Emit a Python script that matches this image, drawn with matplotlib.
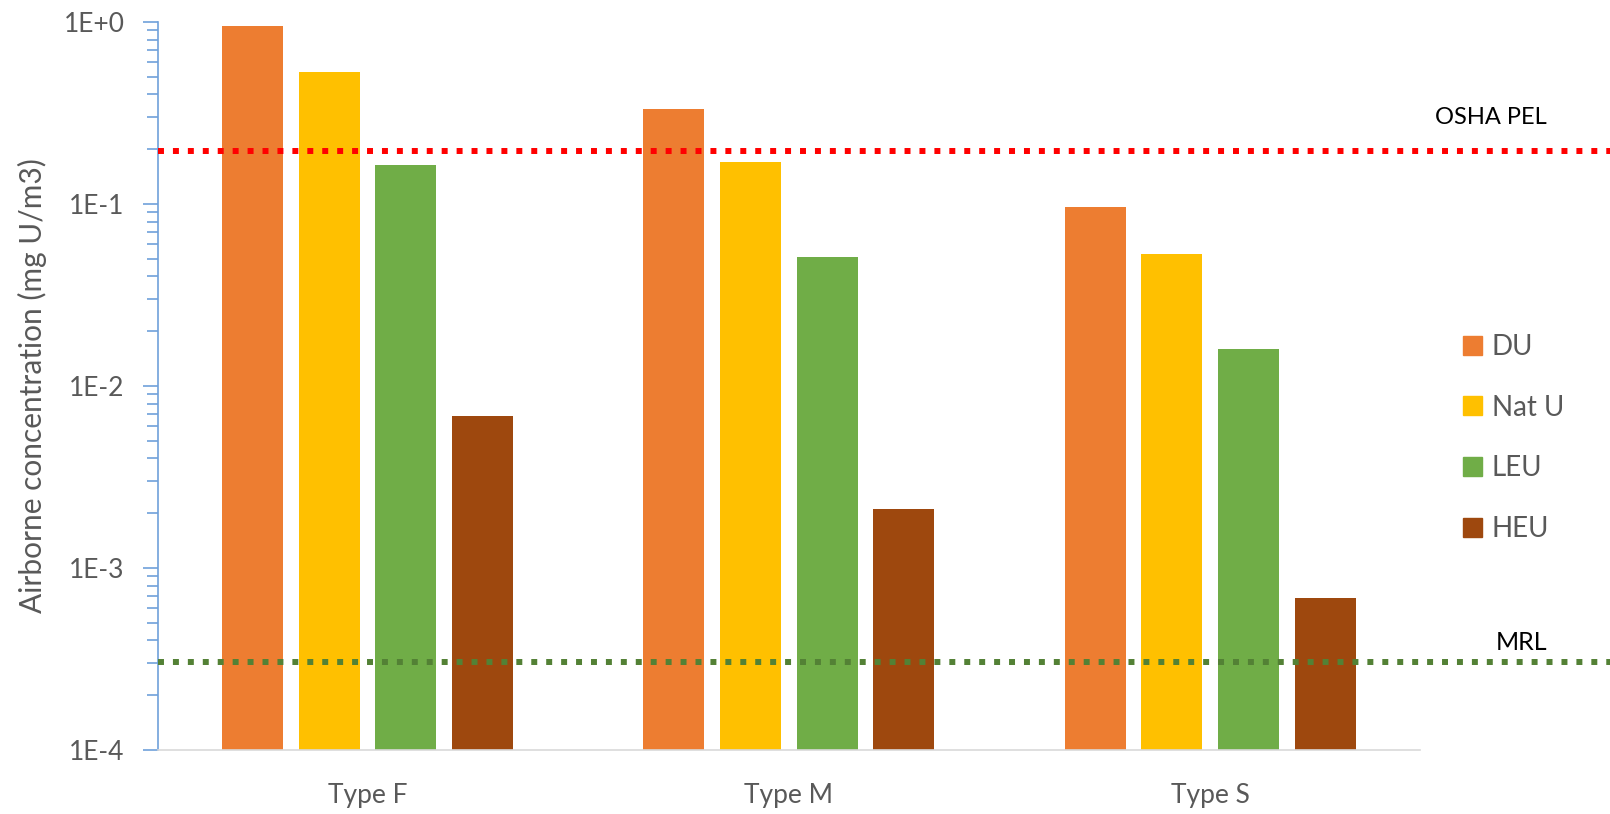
import numpy as np
import matplotlib
matplotlib.use('Agg')
from matplotlib import pyplot as plt
from matplotlib.ticker import LogLocator, FuncFormatter, NullFormatter
from matplotlib.patches import Patch

# data
categories = ['Type F', 'Type M', 'Type S']
series_names = ['DU', 'Nat U', 'LEU', 'HEU']
du = [0.95, 0.333, 0.096]
nat_u = [0.53, 0.170, 0.0534]
leu = [0.164, 0.0513, 0.0160]
heu = [0.00685, 0.0021, 0.00068]
osha_pel = 0.196
mrl = 3.05e-4

colors = ['#ED7D31', '#FFC000', '#70AD47', '#9E480E']
text_grey = '#595959'

plt.rcParams['font.family'] = ['Lato', 'DejaVu Sans']

fig = plt.figure(figsize=(16.1, 8.14), dpi=100)
ax_w = 1262
ax = fig.add_axes([158 / 1610, 64 / 814, ax_w / 1610, 728 / 814])

x = np.arange(len(categories))
pitch = 0.1818
width = 0.1448
for i, (name, vals) in enumerate(zip(series_names, [du, nat_u, leu, heu])):
    ax.bar(x + (i - 1.5) * pitch, vals, width, color=colors[i], label=name, zorder=2)

ax.set_yscale('log')
ax.set_ylim(1e-4, 1)
ax.set_xlim(-0.497, -0.497 + ax_w / 421.4)

# reference lines run past the plot area to the right edge
trans = ax.get_yaxis_transform()
x_end = (1610 - 158) / ax_w
ax.plot([0, x_end], [osha_pel, osha_pel], transform=trans, color='#FF0000',
        lw=4.3, linestyle=(0, (1, 1.5)), dash_capstyle='butt', clip_on=False, zorder=3)
ax.plot([0, x_end], [mrl, mrl], transform=trans, color='#538135',
        lw=4.3, linestyle=(0, (1, 1.5)), dash_capstyle='butt', clip_on=False, zorder=3)

fig.text(1547 / 1610, (814 - 118) / 814, 'OSHA PEL', ha='right', va='center',
         fontsize=17, color='black')
fig.text(1547 / 1610, (814 - 642) / 814, 'MRL', ha='right', va='center',
         fontsize=18, color='black')

# axes styling
for side in ['top', 'right']:
    ax.spines[side].set_visible(False)
ax.spines['left'].set_color('#6FA1DA')
ax.spines['left'].set_linewidth(1.2)
ax.spines['bottom'].set_color('#D9D9D9')
ax.spines['bottom'].set_linewidth(1.2)

ax.yaxis.set_major_locator(LogLocator(base=10, numticks=10))
ax.yaxis.set_minor_locator(LogLocator(base=10, subs=np.arange(2, 10), numticks=10))
ax.yaxis.set_major_formatter(FuncFormatter(lambda v, p: f'1E{int(round(np.log10(v))):+d}'))
ax.yaxis.set_minor_formatter(NullFormatter())
ax.tick_params(axis='y', which='major', length=11, width=1.2, color='#6FA1DA',
               labelsize=19, labelcolor=text_grey, pad=13)
ax.tick_params(axis='y', which='minor', length=8, width=1.2, color='#6FA1DA')

ax.set_xticks(x)
ax.set_xticklabels(categories)
ax.tick_params(axis='x', length=0, labelsize=19, labelcolor=text_grey, pad=24)

ax.set_ylabel('Airborne concentration (mg U/m3)', fontsize=21.5, color=text_grey)
ax.yaxis.set_label_coords(-0.088, 0.5)

handles = [Patch(color=c) for c in colors]
fig.legend(handles, series_names, loc='center left', frameon=False,
           bbox_to_anchor=(1438 / 1610, (814 - 438) / 814), fontsize=20,
           labelcolor=text_grey, handlelength=0.68, handleheight=0.68,
           handletextpad=0.36, labelspacing=1.25)

plt.savefig('out.png', dpi=100)
